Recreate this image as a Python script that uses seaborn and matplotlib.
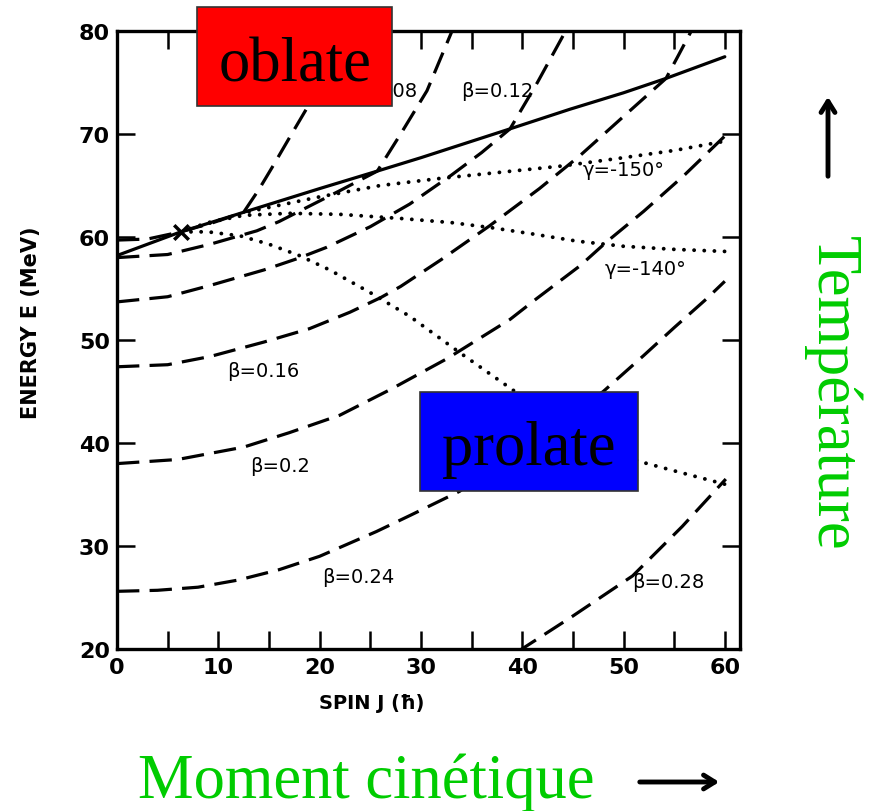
import matplotlib
matplotlib.use("Agg")
import matplotlib.pyplot as plt
from matplotlib.patches import Rectangle, FancyArrowPatch
import seaborn as sns

# ---- curves: spin J (hbar) and energy E (MeV) ----
solid_J = [0, 6.3, 12.5, 20, 25.7, 30, 38.8, 44.7, 50, 54.2, 60]
solid_E = [58.2, 60.5, 62.4, 64.7, 66.4, 67.7, 70.5, 72.4, 74.0, 75.4, 77.5]

beta004_J = [0, 3, 6.3, 9.5, 12.5, 14, 15.4, 17, 18.8, 21, 23.2]
beta004_E = [59.7, 59.8, 60.5, 61.4, 62.4, 64.6, 66.9, 69.6, 72.6, 76.3, 80.2]

beta008_J = [0, 5, 9.2, 13.8, 16, 20, 22, 25.7, 28, 30.6, 33.2]
beta008_E = [58.0, 58.3, 59.3, 60.6, 61.5, 63.5, 64.5, 66.4, 70.0, 74.2, 80.3]

beta012_J = [0, 5, 9.2, 14.5, 17.8, 20.7, 25, 28.9, 33, 36, 38.8, 41.5, 44.4]
beta012_E = [53.7, 54.2, 55.3, 56.8, 57.9, 59.0, 61.0, 63.2, 66.0, 68.2, 70.5, 75.0, 80.2]

beta016_J = [0, 5, 9.2, 14.5, 19, 23, 26, 28, 32, 36.8, 41.7, 45.7, 50, 54.2, 55.4, 56.8]
beta016_E = [47.4, 47.6, 48.4, 49.8, 51.1, 52.7, 54.1, 55.2, 57.8, 61.1, 64.7, 67.9, 71.7, 75.4, 77.6, 80.2]

beta020_J = [0, 6, 12.5, 17, 22, 27, 32.6, 38.8, 41.4, 45.7, 48.3, 52, 56, 60]
beta020_E = [38.0, 38.4, 39.6, 41.0, 42.7, 45.2, 48.2, 52.0, 54.0, 57.2, 59.5, 62.5, 66.0, 69.8]

beta024_J = [0, 4, 8, 12, 16, 20, 25.6, 29, 33.8, 38, 43, 48, 52, 55, 58.2, 60]
beta024_E = [25.6, 25.7, 26.0, 26.7, 27.7, 29.0, 31.4, 33.0, 35.3, 38.2, 41.5, 45.0, 48.5, 51.2, 54.0, 55.7]

beta028_J = [39.5, 45, 50.9, 55.8, 60.1]
beta028_E = [19.7, 23.2, 27.1, 31.9, 36.5]

gamma150_J = [6.3, 10, 13.2, 20, 26, 32, 38, 44, 50, 55, 60]
gamma150_E = [60.5, 61.6, 62.5, 63.9, 65.0, 65.7, 66.3, 66.9, 67.7, 68.4, 69.3]

gamma140_J = [6.3, 9, 12.5, 17, 22, 28, 33, 37, 41, 45.4, 50, 55, 60]
gamma140_E = [60.5, 61.4, 62.1, 62.3, 62.2, 61.8, 61.4, 60.9, 60.3, 59.6, 59.1, 58.8, 58.6]

prolate_J = [6.3, 9, 12.2, 15, 18, 21, 25, 28.9, 33.8, 39, 44, 47, 51.6, 55, 60]
prolate_E = [60.5, 60.5, 60.1, 59.3, 58.2, 56.8, 54.6, 52.3, 48.8, 45.2, 41.7, 40.0, 38.2, 37.3, 36.0]

cross_J = [6.3]
cross_E = [60.5]

x_ticks = [0, 10, 20, 30, 40, 50, 60]
y_ticks = [20, 30, 40, 50, 60, 70, 80]

curve_labels = ["β=0.08", "β=0.12", "γ=-150°", "γ=-140°", "β=0.16", "β=0.2", "β=0.24", "β=0.28"]
label_J = [29.6, 37.5, 50.0, 52.2, 14.4, 16.1, 23.8, 54.4]
label_E = [74.2, 74.2, 66.6, 56.9, 47.0, 37.8, 27.0, 26.6]
label_ha = ["right", "center", "center", "center", "center", "center", "center", "center"]

# ---- figure ----
sns.set_theme(style="ticks")
plt.rcParams["font.family"] = ["DejaVu Sans"]

fig = plt.figure(figsize=(8.69, 8.12), dpi=100)
fig.patch.set_facecolor("white")
ax = fig.add_axes([117 / 869, 1 - 650 / 812, 623 / 869, 618 / 812])
ax.set_facecolor("white")

LW = 2.3
dashed = (0, (7, 3.2))
dotted = (0, (0.01, 2.6))


def curve(J, E, style, lw=LW, cap="butt"):
    sns.lineplot(x=J, y=E, ax=ax, color="black", lw=lw, linestyle=style,
                 estimator=None, sort=False, dash_capstyle=cap,
                 solid_capstyle="round", legend=False)


curve(solid_J, solid_E, "-")
for J, E in [(beta004_J, beta004_E), (beta008_J, beta008_E), (beta012_J, beta012_E),
             (beta016_J, beta016_E), (beta020_J, beta020_E), (beta024_J, beta024_E),
             (beta028_J, beta028_E)]:
    curve(J, E, dashed)
for J, E in [(gamma150_J, gamma150_E), (gamma140_J, gamma140_E), (prolate_J, prolate_E)]:
    curve(J, E, dotted, lw=2.8, cap="round")

sns.scatterplot(x=cross_J, y=cross_E, ax=ax, marker="x", s=110, color="black",
                linewidth=2.5, zorder=5, legend=False)

for txt, j, e, ha in zip(curve_labels, label_J, label_E, label_ha):
    ax.text(j, e, txt, ha=ha, va="center", fontsize=14, color="black", zorder=4)

ax.set_xlim(0, 61.5)
ax.set_ylim(20, 80)
ax.set_xticks(x_ticks)
ax.set_xticks([5, 15, 25, 35, 45, 55], minor=True)
ax.set_yticks(y_ticks)
ax.tick_params(axis="both", which="both", direction="in", length=13, width=1.8,
               top=True, right=True, colors="black")
ax.tick_params(axis="x", which="major", pad=6, labelsize=16)
ax.tick_params(axis="y", which="major", pad=5, labelsize=16)
for lab in ax.get_xticklabels() + ax.get_yticklabels():
    lab.set_fontweight("bold")
for sp in ax.spines.values():
    sp.set_visible(True)
    sp.set_linewidth(2.4)
    sp.set_color("black")

ax.set_xlabel("SPIN J (ħ)", fontsize=14, fontweight="bold", color="black")
ax.set_ylabel("ENERGY E (MeV)", fontsize=15, fontweight="bold", color="black")
ax.xaxis.set_label_coords((372 - 117) / 623, -(694 - 650) / 618)
ax.yaxis.set_label_coords(-(117 - 41) / 623, (650 - 323) / 618)

# ---- shape boxes ----
serif = ["Liberation Serif", "DejaVu Serif"]
fig.add_artist(Rectangle((197 / 869, 1 - 107 / 812), 195 / 869, 99 / 812,
                         transform=fig.transFigure, facecolor="#ff0000",
                         edgecolor="#333333", lw=1.2, zorder=20))
fig.text(295 / 869, 1 - 82 / 812, "oblate", ha="center", va="baseline",
         fontsize=45, family=serif, color="black", zorder=21)
fig.add_artist(Rectangle((420 / 869, 1 - 492 / 812), 218 / 869, 99 / 812,
                         transform=fig.transFigure, facecolor="#0000ff",
                         edgecolor="#333333", lw=1.2, zorder=20))
fig.text(529 / 869, 1 - 465 / 812, "prolate", ha="center", va="baseline",
         fontsize=45, family=serif, color="black", zorder=21)

# ---- outer annotations ----
green = "#00cc00"
fig.text(366 / 869, 1 - 798 / 812, "Moment cinétique", ha="center", va="baseline",
         fontsize=45, family=serif, color=green)
fig.text(832 / 869, 1 - 393 / 812, "Température", ha="center", va="center",
         rotation=270, fontsize=45, family=serif, color=green)

fig.add_artist(FancyArrowPatch(
    (637, 812 - 783), (722, 812 - 783), transform=None,
    arrowstyle="->,head_length=8,head_width=5", lw=3.5, color="black",
    mutation_scale=1))
fig.add_artist(FancyArrowPatch(
    (828, 812 - 180), (828, 812 - 95), transform=None,
    arrowstyle="->,head_length=8,head_width=5", lw=3.5, color="black",
    mutation_scale=1))

fig.savefig("out.png", dpi=100, facecolor="white")
